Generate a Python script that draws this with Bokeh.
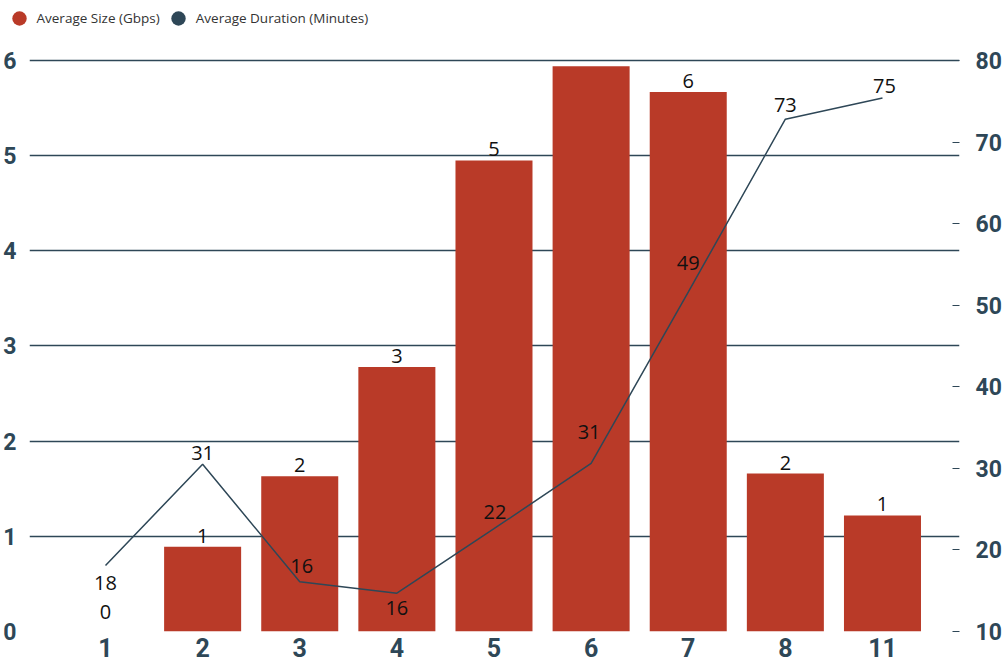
from bokeh.plotting import figure
from bokeh.layouts import column
from bokeh.models import (Range1d, LinearAxis, FixedTicker, ColumnDataSource,
                          Legend, LegendItem)
from bokeh.embed import file_html
from bokeh.resources import INLINE
from bokeh.core.properties import value

# ---- data ----
categories = ["1", "2", "3", "4", "5", "6", "7", "8", "11"]
avg_size = [0.0, 0.89, 1.63, 2.78, 4.95, 5.94, 5.67, 1.66, 1.22]
size_labels = ["0", "1", "2", "3", "5", "", "6", "2", "1"]
avg_duration = [18.1, 30.5, 16.1, 14.7, 22.6, 30.6, 51.6, 72.8, 75.4]
duration_labels = ["18", "31", "16", "16", "22", "31", "49", "73", "75"]
left_ticks = [0, 1, 2, 3, 4, 5, 6]
right_ticks = [10, 20, 30, 40, 50, 60, 70, 80]
series_names = ["Average Size (Gbps)", "Average Duration (Minutes)"]

# ---- label placement (screen px, styling only) ----
size_label_dy = [-13, -4, -4, -4, -4, -4, -4, -4, -4]
duration_label_dx = [0, 0, 2, 0, 1, -2, 0, 0, 2]
duration_label_dy = [18, -11, -16, 15, -17, -31, -29, -14, -12]

RED = "#b93a28"
SLATE = "#2e4757"
TEXT = "#111111"

xs = list(range(len(categories)))
src = ColumnDataSource(dict(
    x=xs, size=avg_size, size_label=size_labels, sdy=size_label_dy,
    dur=avg_duration, dur_label=duration_labels,
    dx=duration_label_dx, dy=duration_label_dy,
))

# ---------------- legend strip ----------------
LEG_H = 37
lg = figure(width=1005, height=LEG_H, output_backend="svg", toolbar_location=None,
            x_range=Range1d(0, 1), y_range=Range1d(0, 1),
            x_axis_type=None, y_axis_type=None, min_border=0, title=None)
try:
    lg.frame_align = False
except Exception:
    pass
lg.outline_line_color = None
lg.xgrid.visible = False
lg.ygrid.visible = False
leg_size = lg.scatter(x=[float("nan")], y=[float("nan")], marker="circle",
                      size=15, fill_color=RED, line_color=None)
leg_dur = lg.scatter(x=[float("nan")], y=[float("nan")], marker="circle",
                     size=15, fill_color=SLATE, line_color=None)
legend = Legend(items=[LegendItem(label=series_names[0], renderers=[leg_size]),
                       LegendItem(label=series_names[1], renderers=[leg_dur])],
                orientation="horizontal", location=(0.5, 1),
                glyph_width=36, glyph_height=36, label_standoff=0, spacing=0,
                padding=0, margin=0, border_line_color=None,
                background_fill_alpha=0,
                label_text_font="Open Sans", label_text_font_size="13.5px",
                label_text_color="#333333")
lg.add_layout(legend, "center")

# ---------------- main chart ----------------
PX_PER_UNIT = 95.17
FRAME_H = 631 - LEG_H
Y_TOP = FRAME_H / PX_PER_UNIT

p = figure(width=1005, height=662 - LEG_H, output_backend="svg", toolbar_location=None,
           x_range=Range1d(-0.7825, 8.793), y_range=Range1d(0, Y_TOP),
           min_border_top=0, min_border_bottom=31, min_border_left=29,
           min_border_right=46, title=None)
try:
    p.frame_align = False
except Exception:
    pass
p.outline_line_color = None
p.background_fill_color = "white"
p.border_fill_color = "white"

p.extra_y_ranges = {"dur": Range1d(10, 10 + Y_TOP * 70 / 6)}

# grid
p.xgrid.visible = False
p.ygrid.ticker = FixedTicker(ticks=left_ticks)
p.ygrid.grid_line_color = SLATE
p.ygrid.grid_line_width = 1.4

# x axis
xa = p.xaxis[0]
xa.ticker = FixedTicker(ticks=xs)
xa.major_label_overrides = {i: c for i, c in zip(xs, categories)}
xa.axis_line_color = None
xa.major_tick_line_color = None
xa.minor_tick_line_color = None
xa.major_label_standoff = 0
xa.major_label_text_font = "Roboto"
xa.major_label_text_font_style = "bold"
xa.major_label_text_font_size = "25px"
xa.major_label_text_color = SLATE

# left axis
ya = p.yaxis[0]
ya.ticker = FixedTicker(ticks=left_ticks)
ya.axis_line_color = None
ya.major_tick_line_color = None
ya.minor_tick_line_color = None
ya.major_label_standoff = 7
ya.major_label_text_font = "Roboto"
ya.major_label_text_font_style = "bold"
ya.major_label_text_font_size = "23px"
ya.major_label_text_color = SLATE

# right axis
ra = LinearAxis(y_range_name="dur", ticker=FixedTicker(ticks=right_ticks))
ra.axis_line_color = None
ra.major_tick_line_color = SLATE
ra.major_tick_in = 7
ra.major_tick_out = 0
ra.minor_tick_line_color = None
ra.major_label_standoff = 16
ra.major_label_text_font = "Roboto"
ra.major_label_text_font_style = "bold"
ra.major_label_text_font_size = "23px"
ra.major_label_text_color = SLATE
p.add_layout(ra, "right")

# bars
p.vbar(x="x", top="size", bottom=0, width=0.793, source=src,
       fill_color=RED, line_color=None)
p.text(x="x", y="size", text="size_label", source=src, y_offset="sdy",
       text_align="center", text_baseline="bottom",
       text_font=value("Open Sans"), text_font_size="20px", text_color=TEXT)

# line
p.line(x="x", y="dur", source=src, y_range_name="dur",
       line_color=SLATE, line_width=1.5)
p.text(x="x", y="dur", text="dur_label", source=src, y_range_name="dur",
       x_offset="dx", y_offset="dy",
       text_align="center", text_baseline="middle",
       text_font=value("Open Sans"), text_font_size="20px", text_color=TEXT)

layout = column(lg, p, spacing=0)
open("out.html", "w").write(file_html(layout, INLINE))
